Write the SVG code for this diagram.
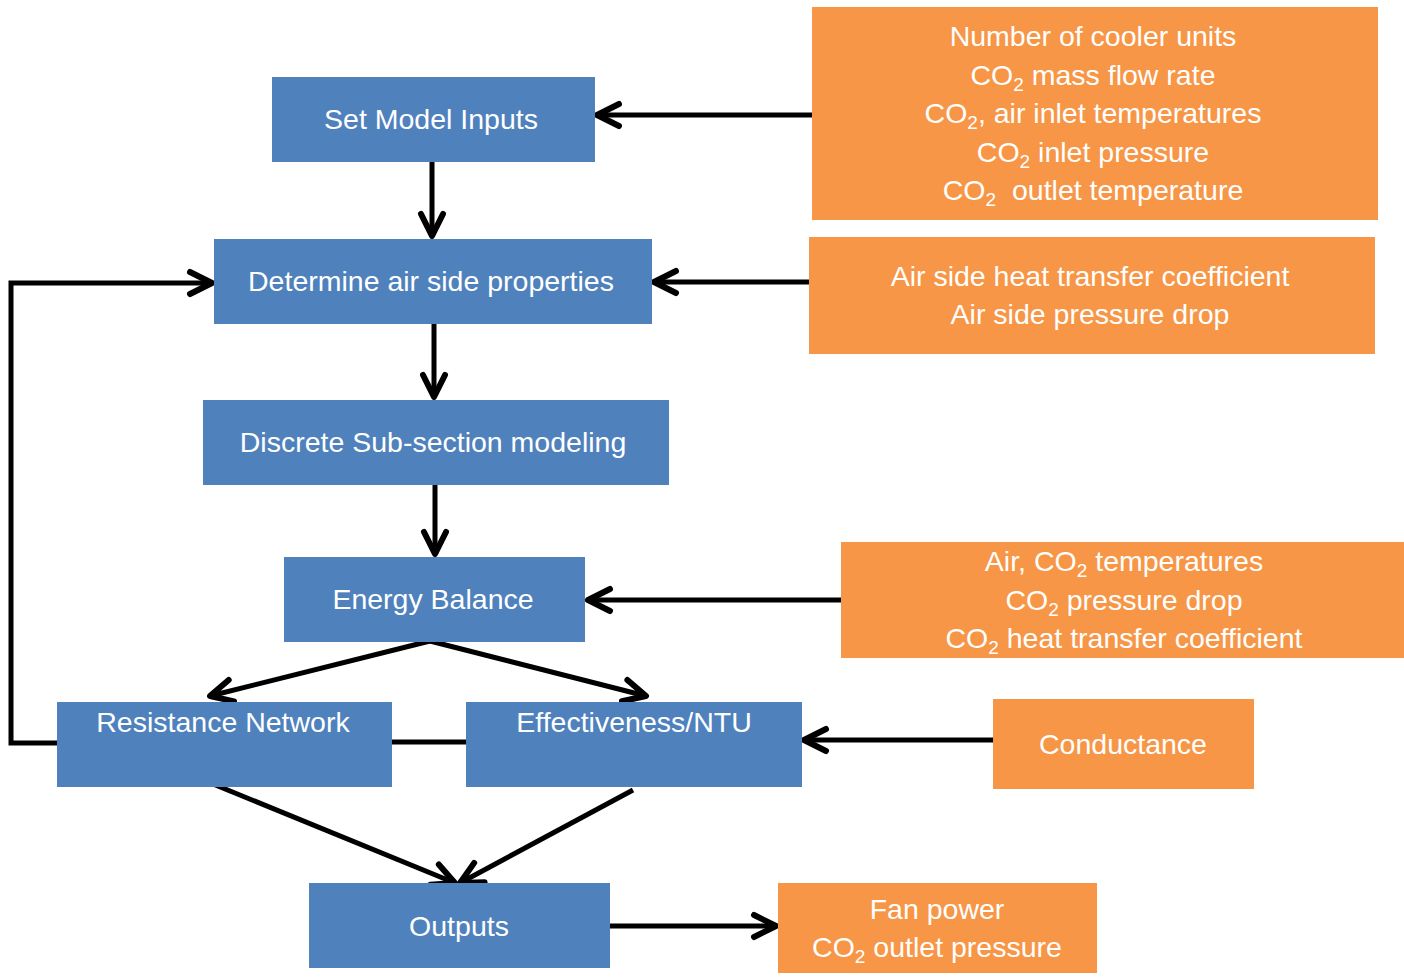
<svg xmlns="http://www.w3.org/2000/svg" width="1404" height="977" viewBox="0 0 1404 977">
<style>
.b{fill:#4F81BD}
.o{fill:#F79646}
text{font-family:"Liberation Sans",Arial,sans-serif;font-size:28.5px;fill:#fff;text-anchor:middle}
.s{font-size:19px}
.c{stroke:#000;stroke-width:5;fill:none}
</style>
<defs>
<marker id="ah" markerUnits="userSpaceOnUse" viewBox="-30 -20 40 40" refX="0" refY="0" markerWidth="40" markerHeight="40" orient="auto" overflow="visible">
<path d="M-22,-11 L0,0 L-22,11" fill="none" stroke="#000" stroke-width="6" stroke-linecap="round" stroke-linejoin="round"/>
</marker>
</defs>
<rect width="1404" height="977" fill="#fff"/>
<g id="connectors">
<line class="c" x1="812" y1="115" x2="597" y2="115" marker-end="url(#ah)"/>
<line class="c" x1="432" y1="162" x2="432" y2="236" marker-end="url(#ah)"/>
<line class="c" x1="809" y1="282" x2="654" y2="282" marker-end="url(#ah)"/>
<line class="c" x1="434" y1="324" x2="434" y2="397" marker-end="url(#ah)"/>
<line class="c" x1="435" y1="485" x2="435" y2="554" marker-end="url(#ah)"/>
<line class="c" x1="843" y1="600" x2="588" y2="600" marker-end="url(#ah)"/>
<line class="c" x1="430" y1="641" x2="210" y2="696" marker-end="url(#ah)"/>
<line class="c" x1="430" y1="641" x2="646" y2="696" marker-end="url(#ah)"/>
<line class="c" x1="392" y1="742" x2="466" y2="742"/>
<polyline class="c" points="59,743 11,743 11,283 212,283" marker-end="url(#ah)"/>
<line class="c" x1="996" y1="740" x2="804" y2="740" marker-end="url(#ah)"/>
<line class="c" x1="213" y1="784" x2="455" y2="883" marker-end="url(#ah)"/>
<line class="c" x1="633" y1="790" x2="460" y2="883" marker-end="url(#ah)"/>
<line class="c" x1="610" y1="926" x2="776" y2="926" marker-end="url(#ah)"/>
</g>
<g id="set-model-inputs"><rect class="b" x="272" y="77" width="323" height="85"/><text x="431" y="129">Set Model Inputs</text></g>
<g id="determine-air"><rect class="b" x="214" y="239" width="438" height="85"/><text x="431" y="291">Determine air side properties</text></g>
<g id="discrete"><rect class="b" x="203" y="400" width="466" height="85"/><text x="433" y="452">Discrete Sub-section modeling</text></g>
<g id="energy-balance"><rect class="b" x="284" y="557" width="301" height="85"/><text x="433" y="609">Energy Balance</text></g>
<g id="resistance-network"><rect class="b" x="57" y="702" width="335" height="85"/><text x="223" y="732">Resistance Network</text></g>
<g id="effectiveness-ntu"><rect class="b" x="466" y="702" width="336" height="85"/><text x="634" y="732">Effectiveness/NTU</text></g>
<g id="outputs"><rect class="b" x="309" y="883" width="301" height="85"/><text x="459" y="936">Outputs</text></g>
<g id="model-inputs-list"><rect class="o" x="812" y="7" width="566" height="213"/>
<text x="1093" y="46">Number of cooler units</text>
<text x="1093" y="85">CO<tspan class="s" dy="6">2</tspan><tspan dy="-6"> mass flow rate</tspan></text>
<text x="1093" y="123">CO<tspan class="s" dy="6">2</tspan><tspan dy="-6">, air inlet temperatures</tspan></text>
<text x="1093" y="162">CO<tspan class="s" dy="6">2</tspan><tspan dy="-6"> inlet pressure</tspan></text>
<text x="1093" y="200">CO<tspan class="s" dy="6">2</tspan><tspan dy="-6">&#160; outlet temperature</tspan></text>
</g>
<g id="air-side-list"><rect class="o" x="809" y="237" width="566" height="117"/>
<text x="1090" y="286">Air side heat transfer coefficient</text>
<text x="1090" y="324">Air side pressure drop</text>
</g>
<g id="co2-list"><rect class="o" x="841" y="542" width="563" height="116"/>
<text x="1124" y="571">Air, CO<tspan class="s" dy="6">2</tspan><tspan dy="-6"> temperatures</tspan></text>
<text x="1124" y="610">CO<tspan class="s" dy="6">2</tspan><tspan dy="-6"> pressure drop</tspan></text>
<text x="1124" y="648">CO<tspan class="s" dy="6">2</tspan><tspan dy="-6"> heat transfer coefficient</tspan></text>
</g>
<g id="conductance"><rect class="o" x="993" y="699" width="261" height="90"/><text x="1123" y="754">Conductance</text></g>
<g id="outputs-list"><rect class="o" x="778" y="883" width="319" height="90"/>
<text x="937" y="919">Fan power</text>
<text x="937" y="957">CO<tspan class="s" dy="6">2</tspan><tspan dy="-6"> outlet pressure</tspan></text>
</g>
</svg>
